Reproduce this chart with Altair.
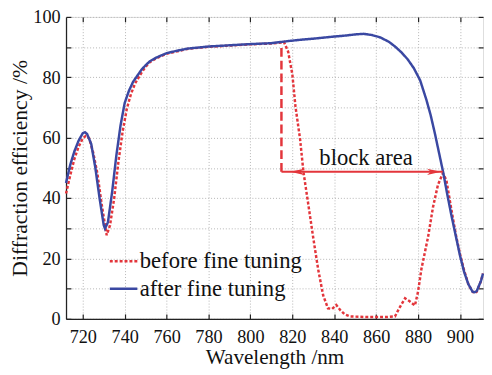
import altair as alt
import pandas as pd

# ---- data ----
after_w = [712, 714, 716, 718, 720, 721, 722, 724, 726, 728, 730, 730.6, 732, 734, 736, 738,
           740, 742, 744, 746, 748, 750, 752, 755, 760, 765, 770, 780, 790, 800, 810, 818,
           825, 830, 840, 845, 850, 854, 858, 862, 866, 869, 872, 875, 878, 881, 884, 886, 888, 890,
           892, 894, 896, 898, 900, 902, 904, 906, 907, 908, 910, 911]
after_e = [45, 51, 55.5, 59, 61.5, 61.8, 61.3, 58, 50, 40, 31, 29.9, 32, 42, 54, 64,
           71.5, 75.5, 78.5, 80.5, 82.5, 84, 85.3, 86.5, 88, 88.8, 89.5, 90.2, 90.6, 91, 91.3, 92,
           92.5, 92.8, 93.5, 93.8, 94.2, 94.4, 94.0, 93.2, 91.8, 90.2, 88.3, 86, 83, 79, 72.5, 67.5, 61.5, 55,
           48.5, 41, 34, 27.5, 21, 15.5, 11.5, 9, 8.8, 9.2, 12.5, 15]

before_w = [712, 714, 716, 718, 720, 721.5, 723, 725, 727, 729, 731.4, 733, 735, 737, 739,
            741, 743, 745, 748, 750, 752, 755, 760, 770, 780, 790, 800, 810, 815, 816, 818,
            820, 821.5, 823.7, 825.3, 827.6, 829.9, 832.3, 834.7, 837, 839, 841, 843, 845,
            847.5, 855, 860, 865, 869, 871, 873.8, 876, 878.5, 880, 881.6, 884.8, 887.1,
            889.5, 891.8, 893.5, 895.7, 898, 900, 902, 904, 906, 907, 908, 910, 911]
before_e = [41.5, 47.5, 53, 57, 59.8, 60.6, 59.8, 55, 48, 38, 27.7, 31, 40, 52, 62,
            69.5, 74.5, 78, 81.5, 83.5, 85, 86.3, 87.8, 89.4, 90.1, 90.5, 90.9, 91.2, 91.5, 91.7, 88.5,
            81, 70.3, 59.5, 48.7, 38, 27.2, 16.5, 7.8, 3.5, 3.3, 4.6, 2.8, 1.5,
            0.8, 0.6, 0.6, 0.6, 0.8, 3.5, 6.8, 5.8, 4.4, 9, 16.5, 27.2, 36.9,
            44.4, 48.2, 46, 37, 28, 21.5, 16, 11.5, 9, 8.5, 9, 12.5, 15]

series = ["before fine tuning", "after fine tuning"]
colors = ["#e3353b", "#3a48a2"]
dashes = [[3, 2], [1, 0]]

x_ticks = [720, 740, 760, 780, 800, 820, 840, 860, 880, 900]
y_ticks = [0, 10, 20, 30, 40, 50, 60, 70, 80, 90, 100]

# block area annotation (wavelength / efficiency)
block_x0 = [814.8]
block_x1 = [891.8]
block_y = [48.7]
block_top = [90.6]
arrow_left_x = [822.3]
arrow_right_x = [887.6]
label_x = [855.2]
label_y = [50.9]
label_text = ["block area"]

FONT = "Liberation Serif"
RED = colors[0]
INK = "#111111"

df_before = pd.DataFrame({"w": before_w, "e": before_e, "s": series[0]})
df_after = pd.DataFrame({"w": after_w, "e": after_e, "s": series[1]})
df_block = pd.DataFrame({"x0": block_x0, "x1": block_x1, "y": block_y, "ytop": block_top})
df_arrows = pd.DataFrame({"x": arrow_left_x + arrow_right_x, "y": block_y * 2,
                          "side": ["left", "right"]})
df_label = pd.DataFrame({"x": label_x, "y": label_y, "t": label_text})

W, H = 424, 307
xs = alt.Scale(domain=[712, 911], nice=False, zero=False)
ys = alt.Scale(domain=[0, 100], nice=False, zero=False)

leg = alt.Legend(title=None, orient="none", legendX=43, legendY=233,
                 labelFont=FONT, labelFontSize=23, labelColor=INK, labelLimit=400,
                 symbolType="stroke", symbolSize=784, symbolStrokeWidth=2.5,
                 labelOffset=1, rowPadding=-3, padding=0)
color = alt.Color("s:N", scale=alt.Scale(domain=series, range=colors), legend=leg)
dash = alt.StrokeDash("s:N", scale=alt.Scale(domain=series, range=dashes), legend=leg)

main_x_axis = alt.Axis(values=x_ticks, title="Wavelength /nm", titleFont=FONT, titleFontSize=21.5,
                       titleFontWeight="normal", titleColor=INK, titlePadding=1,
                       labelFont=FONT, labelFontSize=18.5, labelColor=INK, labelPadding=9,
                       ticks=False, tickSize=0, grid=True, gridDash=[1, 2], gridColor="#b5b5b5",
                       domain=True, domainColor="#222", domainWidth=1.3)
main_y_axis = alt.Axis(values=y_ticks, title="Diffraction efficiency /%", titleFont=FONT,
                       titleFontSize=22, titleFontWeight="normal", titleColor=INK, titlePadding=1,
                       labelFont=FONT, labelFontSize=18.5, labelColor=INK, labelPadding=6,
                       labelExpr="datum.value % 20 == 0 ? datum.label : ''",
                       ticks=False, tickSize=0, grid=True, gridDash=[1, 2], gridColor="#b5b5b5",
                       domain=True, domainColor="#222", domainWidth=1.3)

before = alt.Chart(df_before).mark_line(strokeWidth=2.5).encode(
    x=alt.X("w:Q", scale=xs, axis=main_x_axis),
    y=alt.Y("e:Q", scale=ys, axis=main_y_axis),
    color=color, strokeDash=dash)

after = alt.Chart(df_after).mark_line(strokeWidth=2.5).encode(
    x=alt.X("w:Q", scale=xs, axis=None),
    y=alt.Y("e:Q", scale=ys, axis=None),
    color=color, strokeDash=dash)

def tick_axis(orient, offset, values):
    return alt.Axis(orient=orient, offset=offset, values=values, labels=False, title=None,
                    grid=False, domain=False, ticks=True, tickSize=5, tickColor="#222",
                    tickWidth=1.2)

ticks_a = alt.Chart(df_after).mark_line(strokeOpacity=0).encode(
    x=alt.X("w:Q", scale=xs, axis=tick_axis("top", -H, x_ticks)),
    y=alt.Y("e:Q", scale=ys, axis=tick_axis("right", -W, y_ticks)))
ticks_b = alt.Chart(df_after).mark_line(strokeOpacity=0).encode(
    x=alt.X("w:Q", scale=xs, axis=tick_axis("bottom", -H, x_ticks)),
    y=alt.Y("e:Q", scale=ys, axis=tick_axis("left", -W, y_ticks)))

vline = alt.Chart(df_block).mark_rule(color=RED, strokeWidth=2.5, strokeDash=[9, 4]).encode(
    x=alt.X("x0:Q", scale=xs, axis=None),
    y=alt.Y("y:Q", scale=ys, axis=None), y2="ytop:Q")
hline = alt.Chart(df_block).mark_rule(color=RED, strokeWidth=2).encode(
    x=alt.X("x0:Q", scale=xs, axis=None), x2="x1:Q",
    y=alt.Y("y:Q", scale=ys, axis=None))

right_head = "M1,0 L-1,-0.45 L-0.45,0 L-1,0.45 Z"
left_head = "M-1,0 L1,-0.45 L0.45,0 L1,0.45 Z"
arrow_l = alt.Chart(df_arrows).transform_filter(alt.datum.side == "left").mark_point(
    shape=left_head, filled=True, color=RED, size=200, opacity=1).encode(
    x=alt.X("x:Q", scale=xs, axis=None), y=alt.Y("y:Q", scale=ys, axis=None))
arrow_r = alt.Chart(df_arrows).transform_filter(alt.datum.side == "right").mark_point(
    shape=right_head, filled=True, color=RED, size=200, opacity=1).encode(
    x=alt.X("x:Q", scale=xs, axis=None), y=alt.Y("y:Q", scale=ys, axis=None))

label = alt.Chart(df_label).mark_text(font=FONT, fontSize=23, color=INK,
                                      baseline="alphabetic", align="center").encode(
    x=alt.X("x:Q", scale=xs, axis=None), y=alt.Y("y:Q", scale=ys, axis=None), text="t:N")

chart = alt.layer(before, after, ticks_a, ticks_b, vline, hline, arrow_l, arrow_r, label).resolve_axis(
    x="independent", y="independent"
).properties(
    width=W, height=H,
    autosize=alt.AutoSizeParams(type="none"),
    padding={"left": 59, "top": 6, "right": 1, "bottom": 52},
).configure_view(stroke="#222", strokeWidth=1.3).configure(background="white")

chart.save("out.html", embed_options={"renderer": "svg", "actions": False})
